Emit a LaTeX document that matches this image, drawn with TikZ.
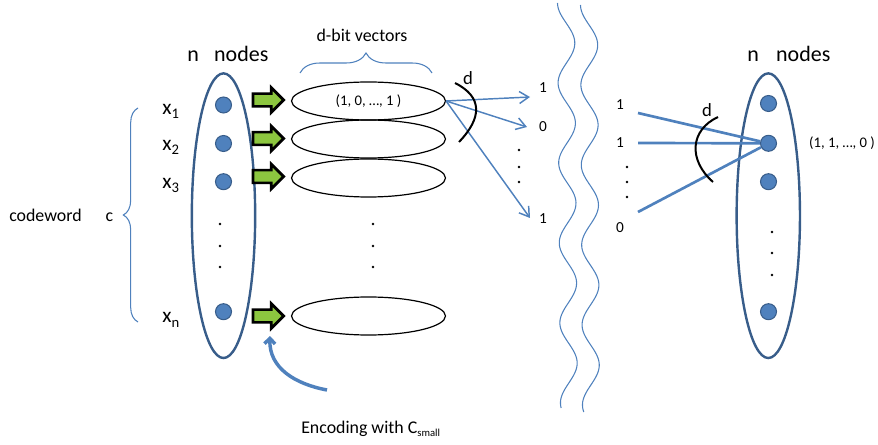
\documentclass[tikz,border=0pt]{standalone}
\usepackage{fontspec}
\setmainfont{Carlito}
\usetikzlibrary{shapes.geometric,shapes.arrows,arrows.meta,decorations.pathreplacing}

\definecolor{ptblue}{HTML}{4F81BD}
\definecolor{ptdark}{HTML}{385D8A}
\definecolor{ptgreen}{HTML}{8CC63F}

\newcommand\subx[1]{x\raisebox{-3pt}{\fontsize{11}{11}\selectfont #1}}

\tikzset{
  group/.style={draw=ptdark, line width=1.8pt, ellipse, minimum width=47.5pt,
                minimum height=213.5pt, inner sep=0pt},
  bit/.style={circle, fill=ptblue, draw=ptdark, line width=0.8pt,
              minimum size=12pt, inner sep=0pt},
  vec/.style={draw, ellipse, line width=0.9pt, minimum width=115.5pt,
              minimum height=28.5pt, inner sep=0pt, font=\fontsize{11}{13}\selectfont},
  feed/.style={single arrow, draw=black, fill=ptgreen, line width=2pt,
               minimum height=23pt, single arrow head extend=4.5pt,
               inner xsep=0pt, inner ysep=3.8pt, anchor=tip},
  dotmark/.style={circle, fill=black, minimum size=2pt, inner sep=0pt},
  bitlbl/.style={font=\fontsize{11.5}{13}\selectfont, inner sep=0pt},
  title/.style={font=\fontsize{16.5}{18}\selectfont, anchor=base west, inner sep=0pt},
  plain/.style={font=\fontsize{13.4}{15}\selectfont, inner sep=0pt},
  xlbl/.style={font=\fontsize{16}{18}\selectfont, anchor=base west, inner sep=0pt},
  dlbl/.style={font=\fontsize{14}{16}\selectfont, inner sep=0pt},
  fan/.style={draw=ptblue, line width=1.1pt, -{Straight Barb[length=7pt,width=9pt]}},
  inlink/.style={draw=ptblue, line width=2pt},
  span/.style={draw=black, line width=1.5pt},
  wave/.style={draw=ptblue, line width=0.8pt},
  bracket/.style={draw=ptblue, line width=0.8pt, decorate,
                  decoration={brace, amplitude=#1}},
  enc/.style={draw=ptblue, line width=2.6pt, -{Straight Barb[length=4pt,width=8pt]}}
}

\begin{document}
\begin{tikzpicture}[x=0.75pt, y=-0.75pt]
  \useasboundingbox (0,0) rectangle (878,445);

  % ---------- left: the n nodes holding the codeword ----------
  \node[group] (lgroup) at (223.5,215.7) {};
  \node[bit] (l1) at (223.5,105) {};
  \node[bit] (l2) at (223.5,143.5) {};
  \node[bit] (l3) at (223.5,181.7) {};
  \node[bit] (ln) at (223.5,311.7) {};
  \node[dotmark] (ld1) at (220,224) {};
  \node[dotmark] (ld2) at (220,246) {};
  \node[dotmark] (ld3) at (220,267) {};

  \node[title] (ltitle) at (187,62) {n\hspace{11.5pt}nodes};

  \node[xlbl] (x1) at (162,115) {\subx{1}};
  \node[xlbl] (x2) at (162,151) {\subx{2}};
  \node[xlbl] (x3) at (162,189) {\subx{3}};
  \node[xlbl] (xn) at (162,323) {\subx{n}};

  \draw[bracket=11pt] (138,322) -- (138,108);
  \node[plain, anchor=base west] (cw) at (9,222) {codeword\hspace{18pt}c};

  % ---------- encoding arrows and d-bit vectors ----------
  \node[feed] (g1) at (285.5,100) {};
  \node[feed] (g2) at (285.5,138.5) {};
  \node[feed] (g3) at (285.5,176.5) {};
  \node[feed] (gn) at (285.5,316) {};

  \node[vec] (v1) at (368.5,101) {(1, 0, …, 1 )};
  \node[vec] (v2) at (368.5,139) {};
  \node[vec] (v3) at (368.5,178) {};
  \node[vec] (vn) at (368.5,316) {};
  \node[dotmark] (vd1) at (373,224) {};
  \node[dotmark] (vd2) at (373,246) {};
  \node[dotmark] (vd3) at (373,267) {};

  \draw[bracket=15pt] (300,73) -- (432,73);
  \node[plain, anchor=base] (dbit) at (362,42) {d-bit vectors};

  \coordinate (c0) at (327,390);
  \coordinate (c1) at (270,336);
  \draw[enc] (c0) .. controls (295,384) and (269,368) .. (c1);
  \node[plain, anchor=base west] (encl) at (301,433)
       {Encoding with C\raisebox{-2.5pt}{\fontsize{8}{8}\selectfont small}};

  % ---------- bits sent out from the first vector ----------
  \coordinate (a1) at (530,97);
  \coordinate (a2) at (527,127);
  \coordinate (a3) at (530,218);
  \draw[fan] (v1.east) -- (a1);
  \draw[fan] (v1.east) -- (a2);
  \draw[fan] (v1.east) -- (a3);
  \node[bitlbl] (o1) at (543,88) {1};
  \node[bitlbl] (o2) at (543,127) {0};
  \node[bitlbl] (o3) at (543,219) {1};
  \node[dotmark] (od1) at (519,150) {};
  \node[dotmark] (od2) at (519,167) {};
  \node[dotmark] (od3) at (519,182) {};
  \draw[span] (455,83) .. controls (483,97) and (482,118) .. (459,142);
  \node[dlbl] (dl) at (468,78) {d};

  % ---------- channel break (one wave period = 80 units) ----------
  \draw[wave] plot[domain=3:408, samples=200, smooth, variable=\t]
        ({566 + 3*(\t-3)/405 - 8.5*cos(4.5*(\t-3))}, \t);
  \draw[wave] plot[domain=5:412, samples=200, smooth, variable=\t]
        ({589 + 2*(\t-5)/407 - 8.5*cos(4.5*(\t-5))}, \t);

  % ---------- right: bits received at a node ----------
  \node[group] (rgroup) at (768.3,215.7) {};
  \node[bit] (r1) at (768.5,103.5) {};
  \node[bit] (r2) at (768.5,143.3) {};
  \node[bit] (r3) at (768.5,181.7) {};
  \node[bit] (rn) at (768.5,311.7) {};
  \node[dotmark] (rd1) at (772,232) {};
  \node[dotmark] (rd2) at (772,253) {};
  \node[dotmark] (rd3) at (772,275) {};
  \node[title] (rtitle) at (747,62) {n\hspace{13pt}nodes};

  \node[bitlbl] (i1) at (620,105) {1};
  \node[bitlbl] (i2) at (620,143) {1};
  \node[bitlbl] (i3) at (620,228) {0};
  \node[dotmark] (id1) at (627,167) {};
  \node[dotmark] (id2) at (627,182) {};
  \node[dotmark] (id3) at (627,197) {};

  \coordinate (b1) at (638,113);
  \coordinate (b2) at (638,143);
  \coordinate (b3) at (638,212);
  \draw[inlink] (b1) -- (r2);
  \draw[inlink] (b2) -- (r2);
  \draw[inlink] (b3) -- (r2);
  \draw[span] (718,117) .. controls (690,130) and (688,160) .. (713,182);
  \node[dlbl] (dr) at (707,110) {d};

  \node[bitlbl, font=\fontsize{11}{13}\selectfont] (rvec) at (842,143) {(1, 1, …, 0 )};
\end{tikzpicture}
\end{document}
